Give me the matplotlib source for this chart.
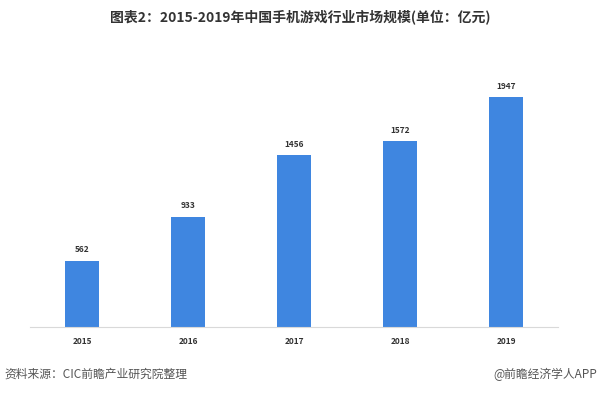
import matplotlib.pyplot as plt

plt.rcParams['font.family'] = ['Noto Sans CJK SC', 'DejaVu Sans']

years = ["2015", "2016", "2017", "2018", "2019"]
market_size = [562, 933, 1456, 1572, 1947]

title = "图表2：2015-2019年中国手机游戏行业市场规模(单位：亿元)"
source = "资料来源：CIC前瞻产业研究院整理"
credit = "@前瞻经济学人APP"

bar_color = "#3F86E0"

fig = plt.figure(figsize=(6, 3.95), dpi=100)
ax = fig.add_axes([0.05, 0.172, 0.88, 0.688])

x = range(len(years))
ax.bar(x, market_size, width=0.32, color=bar_color, zorder=2)
for xi, v in zip(x, market_size):
    ax.text(xi, v + 55, str(v), ha="center", va="bottom", fontsize=6,
            fontweight="bold", color="#333333")

ax.set_xlim(-0.49, 4.49)
ax.set_ylim(0, 2300)
ax.set_xticks(list(x))
ax.set_xticklabels(years, fontsize=6, fontweight="bold", color="#333333")
ax.tick_params(axis="x", length=0, pad=7)
ax.set_yticks([])
for side in ["top", "right", "left"]:
    ax.spines[side].set_visible(False)
ax.spines["bottom"].set_color("#d9d9d9")
ax.spines["bottom"].set_linewidth(0.8)

fig.text(0.5, 0.958, title, ha="center", va="center", fontsize=10,
         fontweight="bold", color="#333333")
fig.text(0.008, 0.052, source, ha="left", va="center", fontsize=8.5, color="#555555")
fig.text(0.995, 0.052, credit, ha="right", va="center", fontsize=8.5, color="#555555")

fig.savefig("out.png", dpi=100)
